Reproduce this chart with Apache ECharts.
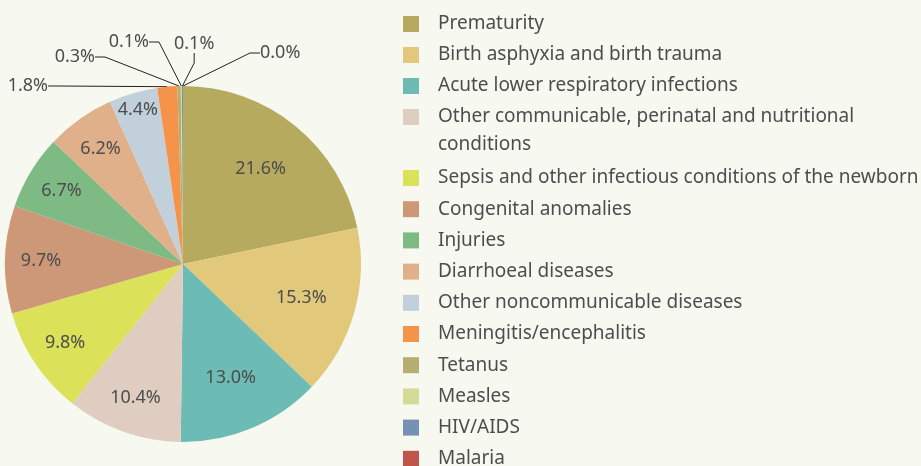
<!DOCTYPE html>
<html><head><meta charset="utf-8">
<script src="https://cdn.jsdelivr.net/npm/echarts@6/dist/echarts.min.js"></script>
<style>html,body{margin:0;padding:0;background:#f7f9f1}#chart{width:921px;height:466px}</style>
</head><body><div id="chart"></div>
<script>
// Data
const categories = [
  'Prematurity',
  'Birth asphyxia and birth trauma',
  'Acute lower respiratory infections',
  'Other communicable, perinatal and nutritional conditions',
  'Sepsis and other infectious conditions of the newborn',
  'Congenital anomalies',
  'Injuries',
  'Diarrhoeal diseases',
  'Other noncommunicable diseases',
  'Meningitis/encephalitis',
  'Tetanus',
  'Measles',
  'HIV/AIDS',
  'Malaria'
];
const shares = [21.6, 15.3, 13.0, 10.4, 9.8, 9.7, 6.7, 6.2, 4.4, 1.8, 0.3, 0.1, 0.1, 0.0];
const colors = ['#b6aa5f', '#e2c87a', '#6cbbb4', '#dfcdc2', '#dbe158', '#cd9878', '#7dba84',
  '#dfb08a', '#c1d0da', '#f6934a', '#b6ae6e', '#d2dc98', '#7692b2', '#c0564a'];
// legend line wrap for the long category (text only)
const wrapName = 'Other communicable, perinatal and nutritional conditions';
const wrapFirst = 'Other communicable, perinatal and nutritional';
const wrapSecond = 'conditions';

// label groups (styling only)
const labelNear = [0, 1, 2];
const labelMid = [3, 4, 5, 6, 7];
const labelFar = [8];
const labelOutside = [9, 10, 11, 12, 13];
// placement of the small-slice labels (layout only): [x, y, align]
const outsidePlacement = {
  9: [48, 86, 'right'],
  10: [95, 57, 'right'],
  11: [149, 42, 'right'],
  12: [174, 44, 'left'],
  13: [260, 53, 'left']
};

const TEXT = '#4d4d4d';
const FONT = '"Noto Sans", sans-serif';
const CENTER = [183, 264];
const R = 178;

function fmt(p) { return p.value.toFixed(1) + '%'; }

function overlay(r0, group) {
  return {
    type: 'pie', silent: true, center: CENTER, radius: [r0, R], startAngle: 90, clockwise: true,
    itemStyle: { color: 'rgba(0,0,0,0)', borderWidth: 0 },
    emphasis: { disabled: true },
    labelLine: { show: false },
    label: { show: true, position: 'inside', color: TEXT, fontFamily: FONT, fontSize: 18, formatter: fmt },
    data: categories.map((n, i) => ({ name: n, value: shares[i], label: { show: group.includes(i) } }))
  };
}

const chart = echarts.init(document.getElementById('chart'), null, { renderer: 'canvas' });
const legendBase = {
  orient: 'vertical', left: 403, padding: 0, icon: 'rect', itemWidth: 16, itemHeight: 16, height: 320,
  textStyle: { color: TEXT, fontFamily: FONT, fontSize: 19, lineHeight: 19, padding: [0, 0, 0, 14] },
  formatter: n => (n === wrapName ? wrapFirst : n)
};
chart.setOption({
  backgroundColor: '#f7f9f1',
  animation: false,
  legend: [
    Object.assign({}, legendBase, { top: 14.5, itemGap: 12, data: categories.slice(0, 4) }),
    Object.assign({}, legendBase, { top: 168.5, itemGap: 12.2, data: categories.slice(4) })
  ],
  graphic: [{
    type: 'text', left: 438, top: 135, silent: true,
    style: { text: wrapSecond, fill: TEXT, font: '19px "Noto Sans", sans-serif' }
  }],
  series: [
    {
      type: 'pie', name: 'Neonatal deaths', center: CENTER, radius: R, startAngle: 90, clockwise: true,
      avoidLabelOverlap: false,
      itemStyle: { borderWidth: 0 },
      emphasis: { scale: false },
      label: { show: true, position: 'outside', color: TEXT, fontFamily: FONT, fontSize: 18, formatter: fmt },
      labelLine: { show: true, length: 10, length2: 10, lineStyle: { color: '#222', width: 1 } },
      labelLayout: function (p) {
        const pl = outsidePlacement[p.dataIndex];
        if (!pl) return {};
        return { x: pl[0], y: pl[1], align: pl[2], verticalAlign: 'middle' };
      },
      data: categories.map((n, i) => ({
        name: n, value: shares[i], itemStyle: { color: colors[i] },
        label: { show: labelOutside.includes(i) }, labelLine: { show: labelOutside.includes(i) }
      }))
    },
    overlay(62, labelNear),
    overlay(100, labelMid),
    overlay(138, labelFar)
  ]
});
</script></body></html>
